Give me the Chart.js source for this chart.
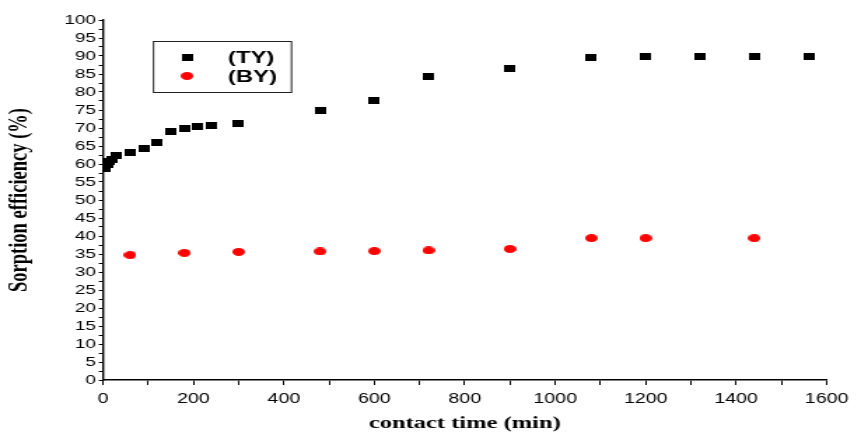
<!DOCTYPE html>
<html>
<head>
<meta charset="utf-8">
<script src="https://cdn.jsdelivr.net/npm/chart.js@4/dist/chart.umd.min.js"></script>
<style>
html,body{margin:0;padding:0;background:#fff;overflow:hidden;}
#page{width:857px;height:432px;position:relative;overflow:hidden;}
#wrap{position:absolute;left:0;top:0;width:612px;height:432px;transform:scaleX(1.4);transform-origin:0 0;}
</style>
</head>
<body>
<div id="page"><div id="wrap"><canvas id="c" width="612" height="432"></canvas></div></div>
<script>
// ---- data ----
const tyTime = [5, 10, 15, 20, 30, 60, 90, 120, 150, 180, 210, 240, 300, 480, 600, 720, 900, 1080, 1200, 1320, 1440, 1560];
const tyEff  = [58.7, 59.8, 60.6, 61.2, 62.5, 63.2, 64.4, 66.1, 68.9, 69.8, 70.3, 70.7, 71.3, 74.8, 77.6, 84.3, 86.6, 89.6, 90.0, 90.0, 90.0, 90.0];
const byTime = [60, 180, 300, 480, 600, 720, 900, 1080, 1200, 1440];
const byEff  = [34.7, 35.3, 35.6, 35.7, 35.8, 36.0, 36.4, 39.4, 39.4, 39.4];
const seriesLabels = ['(TY)', '(BY)'];
const xTitle = 'contact time (min)';
const yTitle = 'Sorption efficiency (%)';

const S = 1.4; // horizontal stretch of the original figure

// ---- marker images ----
function makeRect(w, h, color) {
  const c = document.createElement('canvas'); c.width = w; c.height = h;
  const g = c.getContext('2d'); g.fillStyle = color; g.fillRect(0, 0, w, h); return c;
}
function makeEllipse(w, h, color) {
  const c = document.createElement('canvas'); c.width = w; c.height = h;
  const g = c.getContext('2d'); g.fillStyle = color; g.beginPath();
  g.ellipse(w / 2, h / 2, w / 2, h / 2, 0, 0, Math.PI * 2); g.fill(); return c;
}
const sqMarker = makeRect(8, 7, '#000');
const ciMarker = makeEllipse(9, 8, '#ff0000');

const toXY = (xs, ys) => xs.map((x, i) => ({ x: x, y: ys[i] }));

const legendBox = {
  id: 'legendBox',
  afterDraw(chart) {
    const ctx = chart.ctx;
    ctx.save();
    ctx.strokeStyle = '#222'; ctx.lineWidth = 1;
    ctx.strokeRect(153.5 / S, 41.5, 138 / S, 51);
    const markers = [sqMarker, ciMarker];
    const ys = [57, 76];
    ctx.font = 'bold 17px "Liberation Sans", Arial, sans-serif';
    ctx.fillStyle = '#000'; ctx.textBaseline = 'middle'; ctx.textAlign = 'left';
    chart.data.datasets.forEach((ds, i) => {
      const m = markers[i];
      ctx.drawImage(m, 187 / S - m.width / 2, ys[i] - m.height / 2);
      ctx.fillText(ds.label, 228 / S, ys[i] + 1);
    });
    ctx.restore();
  }
};

new Chart(document.getElementById('c'), {
  type: 'scatter',
  data: {
    datasets: [
      { label: seriesLabels[0], data: toXY(tyTime, tyEff), pointStyle: sqMarker, pointRadius: 5, pointHoverRadius: 5, showLine: false },
      { label: seriesLabels[1], data: toXY(byTime, byEff), pointStyle: ciMarker, pointRadius: 5, pointHoverRadius: 5, showLine: false }
    ]
  },
  options: {
    responsive: false,
    animation: false,
    devicePixelRatio: 1,
    layout: { padding: { top: 20, right: 27 / S, left: 0, bottom: 0 } },
    plugins: { legend: { display: false }, tooltip: { enabled: false } },
    scales: {
      x: {
        type: 'linear', min: 0, max: 1600,
        afterFit(s) { s.height = 52; },
        border: { display: true, color: '#000', width: 1.6 },
        grid: { drawOnChartArea: false, drawTicks: true, tickLength: 5, color: '#000', lineWidth: 1 },
        ticks: {
          stepSize: 100, autoSkip: false, maxRotation: 0, padding: 6,
          color: '#000', font: { family: '"Liberation Sans", Arial, sans-serif', size: 14 },
          callback: v => (v % 200 === 0 ? String(v) : '')
        },
        title: {
          display: true, text: xTitle, color: '#000',
          font: { family: '"Liberation Serif", "Times New Roman", serif', size: 17.5, weight: 'bold', lineHeight: 1.0 },
          padding: { top: 0, bottom: 0 }
        }
      },
      y: {
        type: 'linear', min: 0, max: 100,
        afterFit(s) { s.width = 103 / S; },
        border: { display: true, color: '#000', width: 1.4 },
        grid: { drawOnChartArea: false, drawTicks: true, tickLength: 3, color: '#000', lineWidth: 1 },
        ticks: {
          stepSize: 2.5, autoSkip: false, padding: 2,
          color: '#000', font: { family: '"Liberation Sans", Arial, sans-serif', size: 13.5 },
          callback: v => (v % 5 === 0 ? String(v) : '')
        },
        title: {
          display: true, text: yTitle, color: '#000',
          font: { family: '"Liberation Serif", "Times New Roman", serif', size: 18.5, weight: 'bold' },
          padding: { top: 3, bottom: 0 }
        }
      }
    }
  },
  plugins: [legendBox]
});
</script>
</body>
</html>
